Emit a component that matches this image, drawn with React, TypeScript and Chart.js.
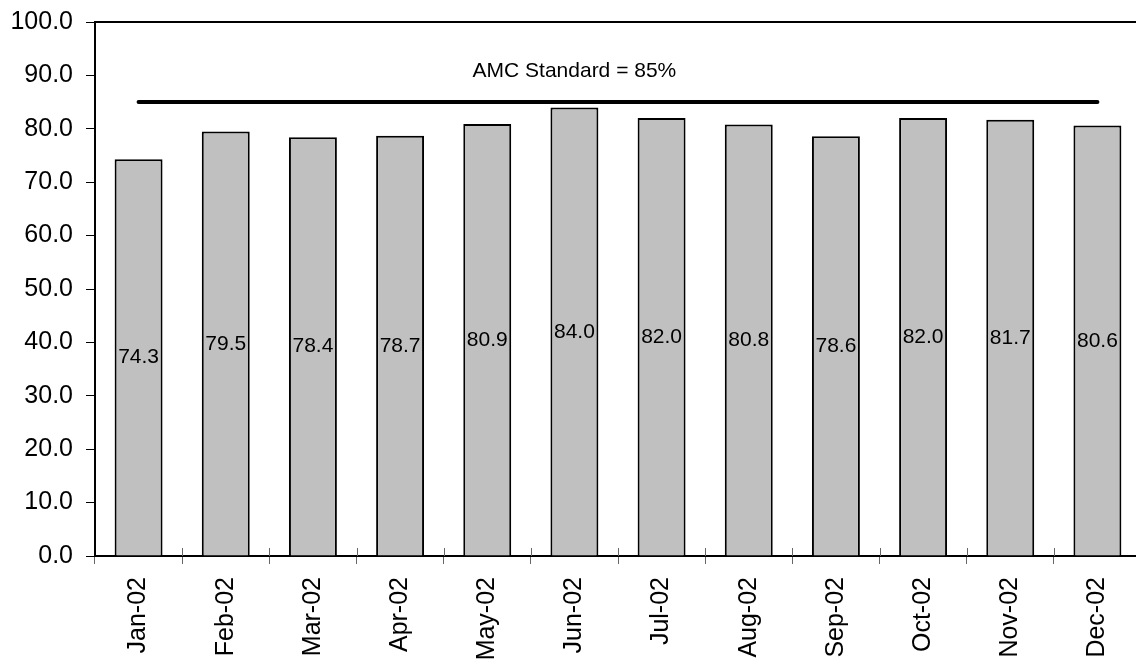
import React, { useEffect, useRef } from 'react';
import { Chart, registerables } from 'chart.js';

Chart.register(...registerables);

const categories = ['Jan-02', 'Feb-02', 'Mar-02', 'Apr-02', 'May-02', 'Jun-02', 'Jul-02', 'Aug-02', 'Sep-02', 'Oct-02', 'Nov-02', 'Dec-02'];
const values = [74.3, 79.5, 78.4, 78.7, 80.9, 84.0, 82.0, 80.8, 78.6, 82.0, 81.7, 80.6];
const standard = [85, 85, 85, 85, 85, 85, 85, 85, 85, 85, 85, 85];
const standardLabel = 'AMC Standard = 85%';
const standardLabelCategory = 5;
const standardLabelValue = 90.7;
const yMin = 0;
const yMax = 100;
const yStep = 10;

const FONT = '"Liberation Sans", Arial, sans-serif';

const decorPlugin = {
  id: 'decor',
  afterDraw(chart: any) {
    const { ctx, chartArea, scales } = chart;
    const xs = scales.x;
    const ys = scales.y;
    ctx.save();
    // top border of plot area
    ctx.strokeStyle = '#000';
    ctx.lineWidth = 2;
    ctx.beginPath();
    ctx.moveTo(chartArea.left - 1, chartArea.top);
    ctx.lineTo(chartArea.right + 1, chartArea.top);
    ctx.stroke();
    // inner halves of x ticks (crossing the axis)
    ctx.strokeStyle = '#666';
    ctx.lineWidth = 1;
    for (let i = 1; i <= categories.length; i++) {
      const x = Math.round(xs.getPixelForValue(i - 0.5)) + 0.5;
      ctx.beginPath();
      ctx.moveTo(x, chartArea.bottom);
      ctx.lineTo(x, chartArea.bottom - 8);
      ctx.stroke();
    }
    // bar value labels, centered in the bar
    ctx.fillStyle = '#000';
    ctx.font = '21px ' + FONT;
    ctx.textAlign = 'center';
    ctx.textBaseline = 'middle';
    const meta = chart.getDatasetMeta(0);
    meta.data.forEach((bar: any, i: number) => {
      const v = values[i];
      ctx.fillText(v.toFixed(1), bar.x, ys.getPixelForValue(v / 2));
    });
    // standard label
    ctx.fillText(standardLabel, xs.getPixelForValue(standardLabelCategory), ys.getPixelForValue(standardLabelValue));
    ctx.restore();
  },
};

export default function App() {
  const ref = useRef<HTMLCanvasElement | null>(null);
  useEffect(() => {
    if (!ref.current) return;
    const chart = new Chart(ref.current, {
      type: 'bar',
      data: {
        labels: categories,
        datasets: [
          {
            type: 'bar',
            data: values,
            backgroundColor: '#C0C0C0',
            borderColor: '#000',
            borderWidth: 2,
            barPercentage: 0.55,
            categoryPercentage: 1,
            order: 2,
          },
          {
            type: 'line',
            data: standard,
            borderColor: '#000',
            borderWidth: 4,
            borderCapStyle: 'round',
            pointRadius: 0,
            fill: false,
            order: 1,
          },
        ],
      } as any,
      options: {
        animation: false,
        responsive: false,
        maintainAspectRatio: false,
        layout: { padding: { top: 22, right: 9, left: 0, bottom: 0 } },
        plugins: {
          legend: { display: false },
          tooltip: { enabled: false },
          title: { display: false },
        },
        scales: {
          x: {
            type: 'category',
            offset: true,
            afterFit: (s: any) => { s.height = 106; s.paddingLeft = 0; s.paddingRight = 0; },
            grid: {
              offset: true,
              drawOnChartArea: false,
              drawTicks: true,
              tickLength: 8,
              color: '#666',
              lineWidth: 1,
            },
            border: { display: true, color: '#000', width: 2 },
            ticks: {
              autoSkip: false,
              maxRotation: 90,
              minRotation: 90,
              padding: 13,
              color: '#000',
              font: { size: 25, family: FONT },
            },
          },
          y: {
            min: yMin,
            max: yMax,
            afterFit: (s: any) => { s.width = 95; s.paddingTop = 0; s.paddingBottom = 0; },
            grid: {
              drawOnChartArea: false,
              drawTicks: true,
              tickLength: 9,
              color: '#000',
              lineWidth: 1,
            },
            border: { display: true, color: '#000', width: 2 },
            ticks: {
              stepSize: yStep,
              padding: 13,
              color: '#000',
              font: { size: 25, family: FONT },
              callback: (v: any) => Number(v).toFixed(1),
            },
          },
        },
      } as any,
      plugins: [decorPlugin],
    });
    return () => chart.destroy();
  }, []);
  return (
    <div style={{ position: 'fixed', left: 0, top: 0, width: 1136, height: 662, overflow: 'hidden', background: '#fff' }}>
      <canvas ref={ref} width={1150} height={662} style={{ display: 'block', width: 1150, height: 662 }} />
    </div>
  );
}
